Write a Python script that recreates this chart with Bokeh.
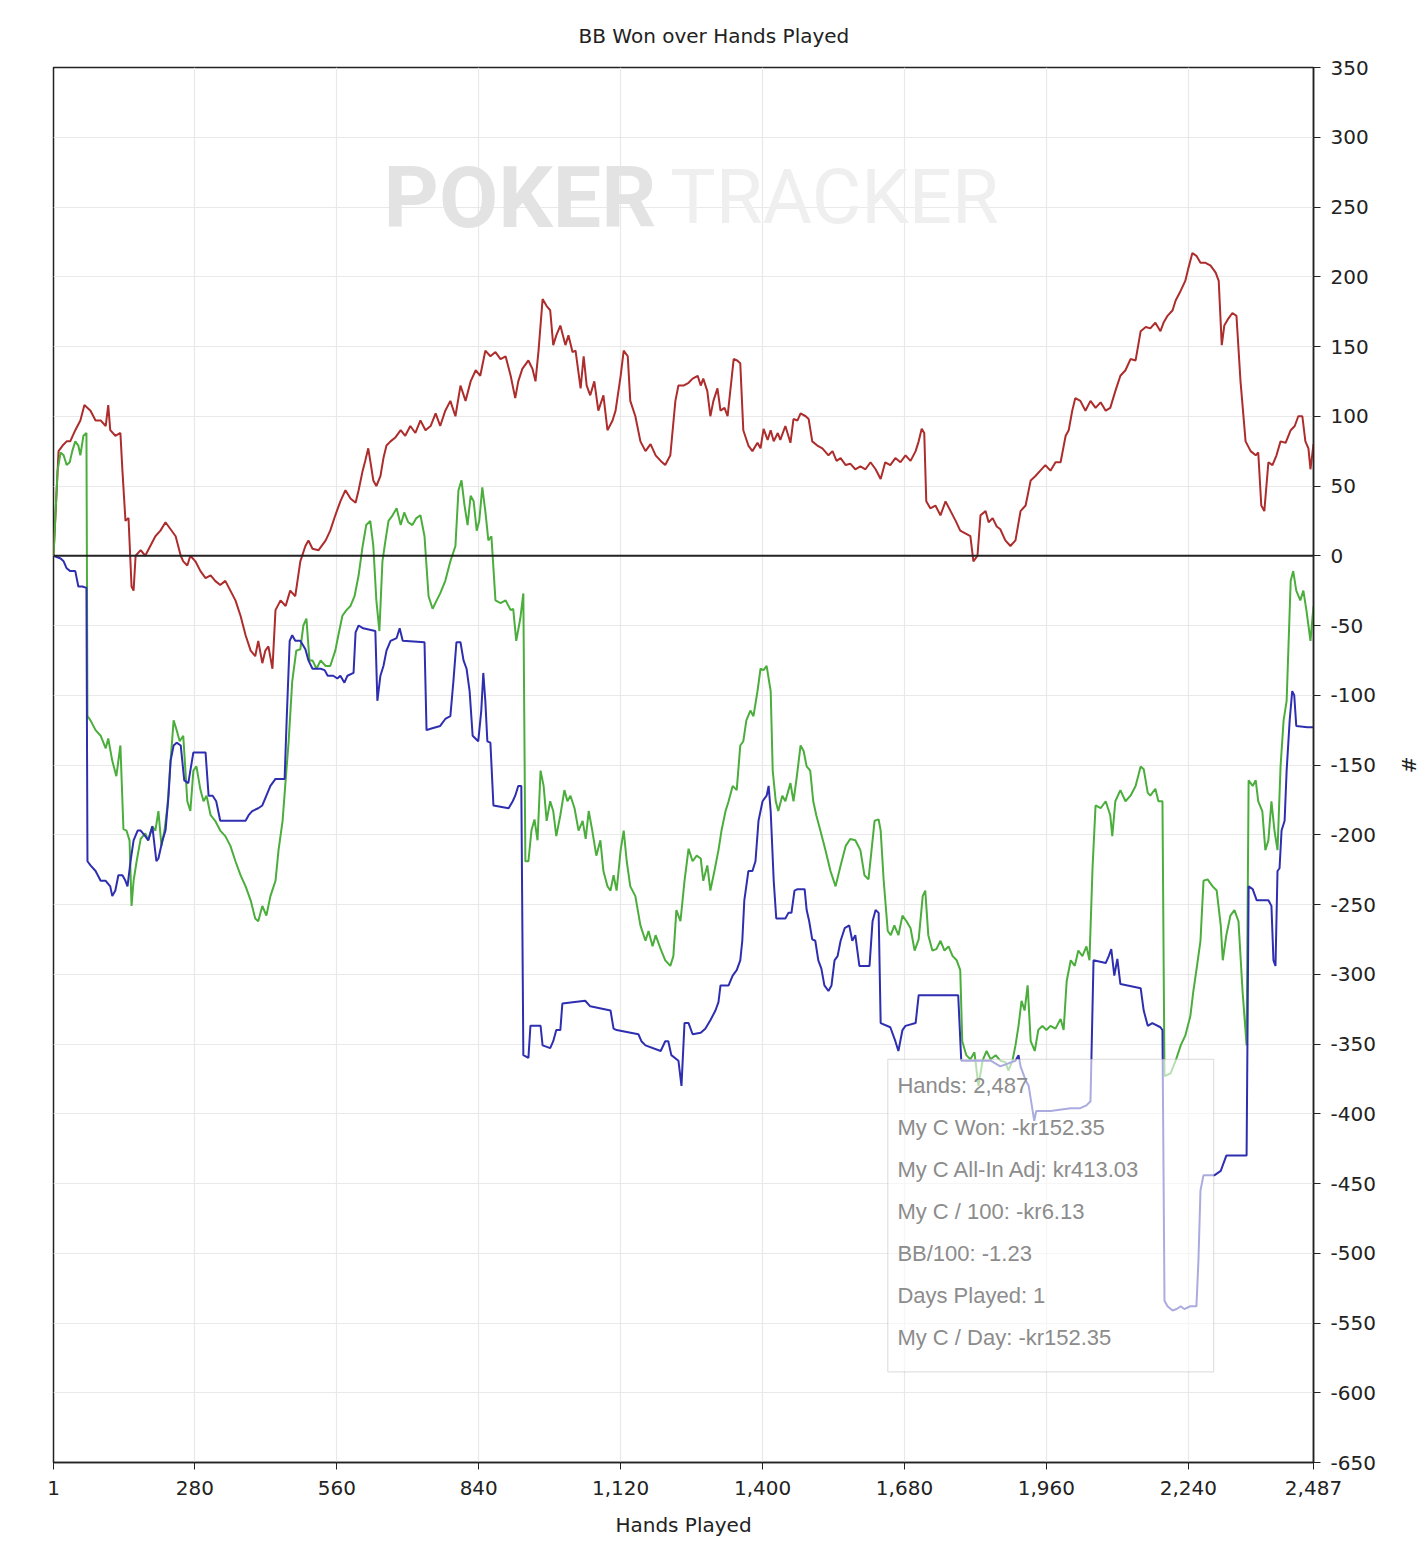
from bokeh.plotting import figure
from bokeh.models import (Range1d, FixedTicker, NumeralTickFormatter, Span,
                          BoxAnnotation, Label)
from bokeh.embed import file_html
from bokeh.resources import INLINE

# ---------------- data ----------------
red_hands = [1, 11, 19, 27, 34, 44, 54, 62, 74, 84, 94, 104, 109, 113, 123, 133, 137, 143, 149, 155,
             159, 163, 173, 182, 192, 202, 212, 222, 232, 242, 252, 257, 265, 271, 281, 291, 301, 311,
             320, 330, 340, 350, 360, 370, 380, 390, 399, 405, 413, 419, 425, 433, 439, 449, 459, 468,
             478, 488, 498, 504, 512, 524, 538, 547, 557, 567, 577, 587, 597, 603, 611, 616, 622, 626,
             632, 638, 646, 652, 658, 666, 676, 686, 695, 705, 715, 725, 735, 745, 755, 764, 774, 784,
             794, 804, 814, 824, 834, 843, 853, 863, 873, 883, 893, 903, 912, 918, 926, 938, 946, 952,
             958, 966, 974, 981, 987, 993, 1001, 1011, 1017, 1025, 1031, 1041, 1047, 1053, 1060, 1068,
             1076, 1086, 1094, 1104, 1110, 1120, 1126, 1134, 1139, 1149, 1159, 1169, 1179, 1189, 1199,
             1208, 1218, 1228, 1234, 1244, 1254, 1262, 1272, 1278, 1283, 1291, 1297, 1303, 1311, 1317,
             1325, 1331, 1343, 1350, 1356, 1362, 1372, 1380, 1390, 1396, 1402, 1410, 1416, 1422, 1430,
             1435, 1445, 1455, 1461, 1469, 1475, 1485, 1491, 1498, 1508, 1518, 1530, 1538, 1546, 1554,
             1564, 1573, 1583, 1593, 1603, 1613, 1623, 1633, 1642, 1652, 1662, 1672, 1682, 1692, 1702,
             1708, 1714, 1719, 1723, 1731, 1741, 1751, 1761, 1771, 1781, 1790, 1800, 1810, 1816, 1824,
             1830, 1840, 1846, 1854, 1862, 1869, 1879, 1889, 1899, 1909, 1919, 1929, 1938, 1948, 1958,
             1968, 1978, 1988, 1998, 2004, 2011, 2017, 2027, 2037, 2047, 2057, 2067, 2077, 2086, 2096,
             2106, 2116, 2126, 2136, 2146, 2156, 2165, 2175, 2185, 2191, 2199, 2209, 2215, 2225, 2234,
             2240, 2248, 2256, 2264, 2274, 2284, 2294, 2300, 2306, 2311, 2319, 2327, 2335, 2343, 2353,
             2363, 2373, 2378, 2384, 2390, 2398, 2406, 2414, 2422, 2432, 2442, 2450, 2457, 2465, 2471,
             2477, 2481, 2487]
red_bb = [0, 75, 79, 82, 82, 90, 97, 108, 104, 97, 97, 93, 108, 90, 86, 88, 61, 25, 27, -22,
          -25, 0, 4, 0, 7, 14, 18, 24, 19, 14, 0, -4, -7, 0, -4, -11, -16, -14,
          -18, -21, -18, -25, -32, -43, -57, -68, -72, -61, -77, -68, -65, -81, -39, -32, -36, -25,
          -29, -4, 7, 11, 5, 4, 11, 18, 29, 39, 47, 41, 38, 47, 61, 68, 77, 68,
          54, 50, 57, 70, 79, 82, 85, 90, 86, 93, 88, 97, 90, 93, 102, 93, 104, 111,
          100, 122, 111, 125, 133, 129, 147, 143, 146, 141, 143, 129, 113, 125, 134, 140, 134, 125,
          147, 184, 179, 176, 151, 158, 165, 151, 158, 146, 147, 120, 143, 122, 115, 125,
          104, 115, 90, 97, 104, 129, 147, 143, 111, 100, 82, 75, 80, 72, 68,
          65, 72, 111, 122, 122, 124, 127, 129, 122, 127, 118, 100, 111, 120, 104,
          106, 100, 141, 140, 138, 90, 79, 75, 81, 77, 91, 83, 90, 82, 88,
          83, 93, 81, 98, 97, 102, 100, 98, 82, 79, 77, 72, 75, 68, 70,
          65, 66, 62, 64, 62, 67, 62, 55, 67, 65, 70, 67, 72, 68, 75,
          82, 91, 88, 39, 34, 36, 29, 39, 32, 25, 18, 16, 14, -4, 0,
          29, 32, 24, 27, 21, 19, 11, 7, 11, 32, 36, 54, 57, 61, 65,
          61, 67, 67, 86, 90, 104, 113, 111, 104, 111, 106, 110, 104, 106, 118,
          129, 133, 141, 140, 161, 164, 163, 167, 161, 167, 172, 176, 183, 190, 197,
          206, 217, 215, 210, 210, 208, 203, 197, 151, 165, 170, 174, 172, 125, 82,
          75, 72, 74, 36, 32, 67, 65, 72, 82, 81, 90, 93, 100, 100, 82,
          77, 62, 80]

green_hands = [1, 9, 15, 21, 27, 33, 38, 44, 50, 54, 60, 66, 68, 74, 84, 94, 104, 109, 117, 125,
               133, 139, 145, 151, 155, 159, 165, 173, 182, 188, 196, 202, 208, 214, 220, 226, 232,
               238, 244, 250, 257, 265, 271, 277, 283, 291, 297, 303, 311, 320, 330, 340, 350, 360,
               370, 380, 390, 399, 405, 413, 421, 429, 439, 445, 453, 459, 465, 472, 480, 488, 494,
               500, 506, 512, 520, 528, 538, 547, 557, 563, 571, 579, 587, 595, 603, 611, 618, 626,
               632, 638, 644, 650, 656, 662, 670, 678, 686, 693, 701, 709, 717, 725, 733, 741, 749,
               757, 764, 774, 784, 794, 800, 806, 812, 818, 824, 830, 836, 841, 847, 853, 859, 865,
               873, 883, 893, 903, 908, 914, 922, 928, 932, 938, 944, 950, 956, 962, 968, 974, 981,
               987, 993, 1001, 1009, 1015, 1021, 1029, 1037, 1045, 1051, 1057, 1064, 1072, 1080, 1086,
               1094, 1100, 1106, 1112, 1120, 1126, 1132, 1139, 1149, 1159, 1169, 1175, 1183, 1189,
               1199, 1208, 1218, 1224, 1230, 1238, 1246, 1254, 1262, 1270, 1278, 1283, 1291, 1297,
               1305, 1313, 1319, 1327, 1333, 1341, 1349, 1356, 1362, 1368, 1376, 1382, 1390, 1396,
               1402, 1408, 1416, 1420, 1426, 1431, 1439, 1445, 1455, 1461, 1467, 1475, 1481, 1487,
               1494, 1500, 1506, 1514, 1524, 1534, 1544, 1554, 1564, 1573, 1583, 1593, 1601, 1609,
               1615, 1621, 1629, 1633, 1639, 1647, 1653, 1660, 1668, 1676, 1684, 1692, 1700, 1708,
               1716, 1721, 1727, 1735, 1743, 1751, 1759, 1767, 1775, 1783, 1790, 1794, 1802, 1810,
               1818, 1826, 1834, 1842, 1850, 1860, 1869, 1879, 1885, 1893, 1899, 1905, 1911, 1917,
               1923, 1929, 1937, 1944, 1952, 1960, 1968, 1978, 1988, 1994, 2000, 2008, 2016, 2023,
               2031, 2039, 2045, 2051, 2057, 2067, 2077, 2086, 2090, 2096, 2106, 2116, 2126, 2136,
               2146, 2152, 2160, 2165, 2175, 2181, 2189, 2193, 2205, 2215, 2225, 2234, 2244, 2250,
               2256, 2264, 2270, 2278, 2288, 2296, 2304, 2308, 2315, 2323, 2331, 2339, 2347, 2355,
               2359, 2367, 2373, 2378, 2386, 2392, 2398, 2404, 2410, 2416, 2422, 2428, 2434, 2442,
               2447, 2453, 2461, 2467, 2473, 2481, 2487]
green_bb = [0, 61, 74, 72, 65, 67, 75, 82, 79, 72, 86, 88, -115, -118, -125, -129, -138, -131, -147, -158,
            -136, -196, -197, -204, -251, -233, -219, -203, -199, -204, -194, -197, -183, -208, -197, -179, -147,
            -118, -125, -133, -129, -176, -183, -154, -151, -168, -176, -172, -186, -190, -197, -201, -208, -219,
            -229, -237, -247, -260, -262, -251, -258, -244, -233, -211, -190, -161, -133, -90, -68, -67, -50,
            -45, -75, -75, -81, -75, -79, -79, -68, -57, -43, -39, -36, -29, -14, 7, 22, 25,
            7, -32, -54, -4, 11, 25, 29, 34, 22, 31, 24, 22, 27, 29, 14, -29, -38,
            -32, -27, -18, -4, 7, 47, 54, 36, 22, 43, 39, 18, 25, 49, 32, 11, 14,
            -32, -34, -32, -39, -38, -61, -45, -27, -219, -219, -197, -189, -204, -154, -165, -190, -176,
            -183, -201, -186, -168, -176, -172, -181, -197, -190, -203, -183, -197, -215, -204, -226,
            -237, -240, -229, -240, -211, -197, -219, -237, -244, -265, -276, -269, -280, -272,
            -282, -290, -294, -287, -254, -262, -233, -210, -219, -215, -217, -233, -222, -240,
            -226, -211, -197, -183, -176, -165, -168, -136, -133, -118, -111, -115, -97, -81,
            -82, -79, -97, -154, -176, -183, -172, -176, -163, -176, -160, -136, -140, -151,
            -154, -176, -186, -197, -211, -226, -237, -222, -208, -203, -204, -211, -229, -232,
            -211, -190, -189, -197, -233, -269, -272, -265, -272, -258, -262, -267, -283, -275,
            -244, -240, -272, -283, -282, -276, -283, -280, -287, -290, -297, -348, -358, -361,
            -356, -380, -362, -355, -361, -358, -362, -363, -369, -362, -351, -337, -319, -326,
            -308, -348, -355, -340, -337, -340, -337, -339, -332, -340, -305, -290, -294, -283,
            -287, -280, -290, -224, -179, -181, -176, -186, -201, -176, -168, -176, -172, -165,
            -151, -153, -170, -172, -167, -176, -176, -373, -371, -362, -351, -344, -330, -312,
            -297, -276, -233, -232, -237, -240, -265, -290, -272, -258, -254, -262, -312, -351,
            -161, -165, -161, -176, -183, -211, -204, -176, -197, -211, -151, -118, -104, -18,
            -11, -25, -32, -25, -39, -61, -36]

blue_hands = [1, 15, 21, 27, 34, 44, 50, 58, 66, 68, 74, 84, 94, 104, 113, 117, 123, 129, 137, 143,
              147, 153, 159, 167, 173, 182, 188, 196, 204, 208, 216, 222, 228, 232, 238, 244, 252, 259,
              267, 271, 277, 301, 307, 315, 322, 330, 380, 386, 393, 405, 413, 421, 429, 439, 457, 461,
              467, 472, 478, 488, 498, 504, 512, 528, 536, 542, 553, 561, 567, 575, 581, 593, 597, 603,
              612, 636, 640, 646, 652, 658, 666, 678, 684, 690, 733, 737, 745, 764, 774, 784, 790, 796,
              804, 810, 816, 822, 828, 839, 845, 849, 853, 857, 863, 869, 899, 907, 912, 918, 924, 928,
              938, 942, 962, 966, 981, 987, 993, 1001, 1005, 1050, 1060, 1100, 1106, 1112, 1155, 1161,
              1169, 1199, 1208, 1214, 1220, 1234, 1240, 1246, 1254, 1262, 1278, 1287, 1297, 1307, 1313,
              1317, 1333, 1341, 1349, 1356, 1360, 1364, 1372, 1380, 1386, 1392, 1400, 1408, 1412, 1416,
              1422, 1427, 1445, 1451, 1457, 1463, 1469, 1483, 1487, 1492, 1498, 1504, 1510, 1516, 1522,
              1530, 1536, 1542, 1548, 1554, 1562, 1571, 1577, 1583, 1591, 1611, 1617, 1623, 1629, 1633,
              1652, 1662, 1668, 1676, 1682, 1702, 1708, 1786, 1792, 1850, 1869, 1899, 1905, 1909, 1919,
              1925, 1932, 1936, 1940, 1968, 2008, 2027, 2039, 2047, 2053, 2077, 2083, 2088, 2094, 2100,
              2106, 2146, 2152, 2160, 2169, 2185, 2189, 2193, 2199, 2209, 2217, 2225, 2232, 2244, 2256,
              2260, 2264, 2270, 2292, 2304, 2315, 2355, 2359, 2367, 2375, 2398, 2404, 2408, 2412, 2416,
              2420, 2424, 2430, 2434, 2440, 2445, 2449, 2453, 2475, 2487]
blue_bb = [0, -2, -4, -9, -11, -11, -22, -22, -23, -219, -222, -226, -233, -233, -237, -244, -240, -229, -229, -233,
           -237, -219, -204, -197, -197, -201, -204, -194, -219, -217, -204, -197, -172, -147, -136, -134, -136, -161,
           -163, -154, -141, -141, -172, -172, -176, -190, -190, -186, -183, -181, -179, -172, -165, -160, -160, -118,
           -61, -57, -61, -61, -67, -75, -81, -81, -82, -86, -86, -88, -86, -91, -86, -84, -55, -50,
           -52, -54, -104, -86, -79, -68, -61, -59, -52, -61, -62, -125, -124, -122, -117, -115, -90, -62,
           -62, -75, -81, -97, -129, -133, -111, -84, -104, -133, -134, -179, -181, -176, -172, -165, -165, -358,
           -360, -337, -337, -351, -353, -348, -340, -340, -321, -319, -323, -326, -339, -340, -343, -348,
           -351, -355, -348, -348, -358, -362, -380, -335, -335, -343, -342, -339, -333, -326, -320,
           -308, -308, -301, -297, -290, -276, -247, -226, -226, -219, -190, -176, -172, -165, -183,
           -233, -260, -260, -256, -256, -240, -239, -239, -254, -262, -275, -276, -290, -296, -308,
           -312, -308, -290, -287, -276, -267, -265, -276, -272, -294, -294, -262, -254, -256, -335,
           -338, -348, -355, -340, -337, -335, -315, -315, -362, -362, -366, -362, -358, -366, -376,
           -380, -396, -405, -398, -398, -396, -396, -394, -391, -290, -292, -287, -282, -301, -289,
           -307, -310, -326, -337, -335, -338, -340, -534, -538, -541, -540, -538, -540, -538, -538,
           -505, -455, -444, -444, -441, -430, -430, -237, -239, -247, -247, -251, -290, -294, -226,
           -224, -197, -190, -154, -118, -97, -100, -122, -123, -123]

x_ticks = [1, 280, 560, 840, 1120, 1400, 1680, 1960, 2240, 2487]
y_ticks = [-650, -600, -550, -500, -450, -400, -350, -300, -250, -200, -150, -100, -50,
           0, 50, 100, 150, 200, 250, 300, 350]

tooltip_lines = ["Hands: 2,487", "My C Won: -kr152.35", "My C All-In Adj: kr413.03",
                 "My C / 100: -kr6.13", "BB/100: -1.23", "Days Played: 1", "My C / Day: -kr152.35"]

# ---------------- figure ----------------
AXIS_FONT = "DejaVu Sans"
p = figure(frame_width=1260, frame_height=1395,
           x_range=Range1d(1, 2487), y_range=Range1d(-650, 350),
           output_backend="svg", toolbar_location=None,
           y_axis_location="right",
           min_border_left=53, min_border_top=67, min_border_right=30,
           min_border_bottom=70,
           title="BB Won over Hands Played")
p.background_fill_color = "white"
p.border_fill_color = "white"
p.outline_line_color = "#222222"
p.outline_line_width = 1.5

p.title.align = "left"
p.title.offset = 525
p.title.standoff = 35
p.title.vertical_align = "top"
p.title.text_font = AXIS_FONT
p.title.text_font_size = "20px"
p.title.text_font_style = "normal"
p.title.text_color = "#222222"

# grids
p.xgrid.ticker = FixedTicker(ticks=x_ticks)
p.ygrid.ticker = FixedTicker(ticks=y_ticks)
p.xgrid.grid_line_color = "#e9e9e9"
p.ygrid.grid_line_color = "#e9e9e9"
p.xgrid.grid_line_width = 1.2
p.ygrid.grid_line_width = 1.2

# axes
xa = p.xaxis[0]
xa.ticker = FixedTicker(ticks=x_ticks)
xa.formatter = NumeralTickFormatter(format="0,0")
xa.axis_label = "Hands Played"
ya = p.yaxis[0]
ya.ticker = FixedTicker(ticks=y_ticks)
ya.formatter = NumeralTickFormatter(format="0")
ya.axis_label = "#"
for ax in (xa, ya):
    ax.axis_line_color = "#222222"
    ax.axis_line_width = 1.5
    ax.major_tick_line_color = "#222222"
    ax.major_tick_in = 0
    ax.major_tick_out = 7
    ax.minor_tick_line_color = None
    ax.major_label_text_font = AXIS_FONT
    ax.major_label_text_font_size = "20px"
    ax.major_label_text_color = "#222222"
    ax.axis_label_text_font = AXIS_FONT
    ax.axis_label_text_font_size = "20px"
    ax.axis_label_text_font_style = "normal"
    ax.axis_label_text_color = "#222222"
xa.major_label_standoff = 11
xa.axis_label_standoff = 15
ya.major_label_standoff = 10
ya.axis_label_standoff = 18

# watermark
p.add_layout(Label(x=652, y=257, text="POKER", text_font="Roboto", text_font_size="86px",
                   text_font_style="bold", text_baseline="alphabetic",
                   text_color="#e3e3e3", level="underlay"))
p.add_layout(Label(x=1218, y=257, text="TRACKER", text_font="Roboto", text_font_size="76px",
                   text_baseline="alphabetic", text_color="#efefef", level="underlay"))

# zero line
p.add_layout(Span(location=0, dimension="width", line_color="#222222", line_width=2))

# series
p.line(red_hands, red_bb, line_color="#ad2c2c", line_width=2)
p.line(green_hands, green_bb, line_color="#4bae3c", line_width=2)
p.line(blue_hands, blue_bb, line_color="#2e2eb0", line_width=2)

# tooltip box
p.add_layout(BoxAnnotation(left=1647, right=2290, top=-361, bottom=-585,
                           fill_color="white", fill_alpha=0.6,
                           line_color="#9a9a9a", line_width=1.2))
for i, t in enumerate(tooltip_lines):
    p.add_layout(Label(x=1666, y=-380 - 30.1 * i, text=t, text_baseline="middle",
                       text_font="Liberation Sans", text_font_size="22px",
                       text_color="#8c8c8c"))

open("out.html", "w").write(file_html(p, INLINE))
